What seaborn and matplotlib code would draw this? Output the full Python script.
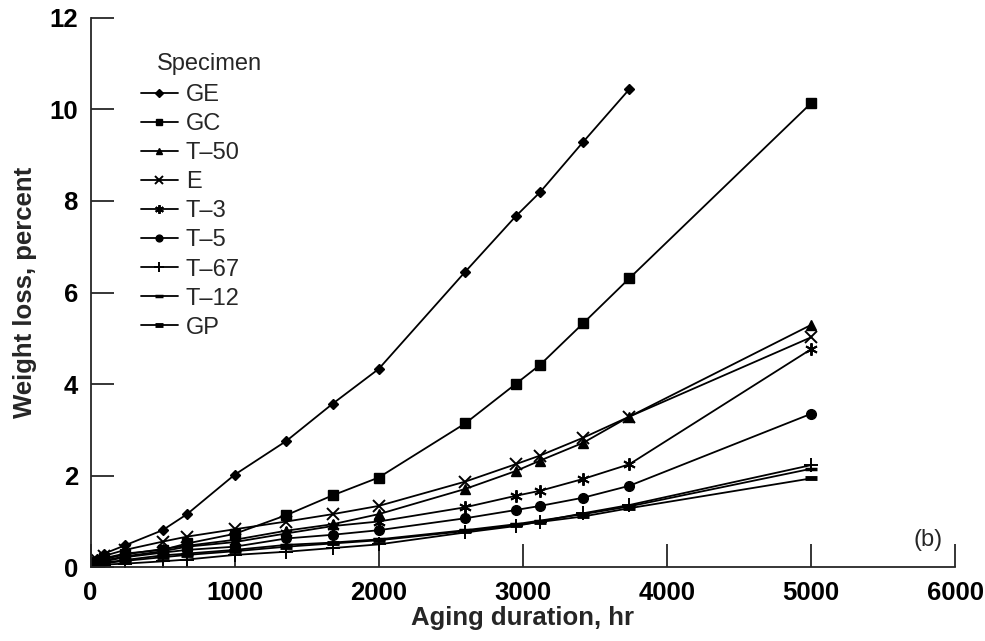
import numpy as np
import pandas as pd
import matplotlib
matplotlib.use('Agg')
import matplotlib.pyplot as plt
import seaborn as sns

# aging hours at which specimens were weighed
hours = [24, 48, 96, 240, 500, 670, 1000, 1360, 1680, 2000, 2600, 2950, 3120, 3420, 3740, 5000]

# weight loss, percent
ge = [0.12, 0.18, 0.30, 0.48, 0.81, 1.16, 2.02, 2.76, 3.57, 4.33, 6.45, 7.66, 8.19, 9.29, 10.44]
gc = [0.08, 0.12, 0.20, 0.30, 0.38, 0.52, 0.73, 1.14, 1.57, 1.96, 3.14, 4.00, 4.42, 5.33, 6.31, 10.13]
t50 = [0.06, 0.10, 0.18, 0.28, 0.40, 0.47, 0.60, 0.80, 0.94, 1.16, 1.71, 2.10, 2.33, 2.72, 3.29, 5.29]
e = [0.10, 0.15, 0.25, 0.38, 0.56, 0.67, 0.83, 1.00, 1.16, 1.34, 1.87, 2.25, 2.44, 2.83, 3.29, 5.02]
t3 = [0.06, 0.09, 0.15, 0.24, 0.35, 0.45, 0.55, 0.74, 0.90, 1.00, 1.31, 1.56, 1.67, 1.93, 2.25, 4.76]
t5 = [0.05, 0.08, 0.13, 0.22, 0.32, 0.38, 0.45, 0.63, 0.71, 0.81, 1.07, 1.25, 1.34, 1.52, 1.78, 3.35]
t67 = [0.03, 0.05, 0.06, 0.08, 0.13, 0.17, 0.27, 0.34, 0.42, 0.50, 0.76, 0.90, 1.00, 1.18, 1.36, 2.23]
t12 = [0.04, 0.07, 0.10, 0.16, 0.26, 0.30, 0.38, 0.49, 0.54, 0.61, 0.81, 0.94, 1.02, 1.16, 1.33, 2.15]
gp = [0.04, 0.06, 0.09, 0.14, 0.22, 0.27, 0.35, 0.45, 0.52, 0.59, 0.79, 0.92, 0.99, 1.11, 1.29, 1.94]

specimens = ['GE', 'GC', 'T\u201350', 'E', 'T\u20133', 'T\u20135', 'T\u201367', 'T\u201312', 'GP']
series = [ge, gc, t50, e, t3, t5, t67, t12, gp]

# marker, size, edge width per specimen
styles = [('D', 5.5, 1.0), ('s', 7, 1.0), ('^', 7, 1.0), ('x', 8, 1.4), ((6, 2, 0), 9, 1.4),
          ('o', 7, 1.0), ('+', 10, 1.4), ('_', 8, 2.5), ('_', 8, 3.5)]

sns.set_style('ticks')
plt.rcParams['font.family'] = ['Liberation Sans', 'DejaVu Sans']

fig = plt.figure(figsize=(9.85, 6.41), dpi=100)
ax = fig.add_axes([90.5 / 985, 1 - 567.3 / 641, (955 - 90.5) / 985, (567.3 - 17.7) / 641])

for name, vals, (m, ms, mew) in zip(specimens, series, styles):
    df = pd.DataFrame({'hr': hours[:len(vals)], 'loss': vals})
    sns.lineplot(data=df, x='hr', y='loss', ax=ax, color='black', lw=1.3,
                 marker=m, markersize=ms, markeredgewidth=mew, markeredgecolor='black',
                 label=name)

ax.set_xlim(0, 6000)
ax.set_ylim(0, 12)
ax.set_xticks(np.arange(0, 6001, 1000))
ax.set_yticks(np.arange(0, 13, 2))
sns.despine(ax=ax)
for sp in ['left', 'bottom']:
    ax.spines[sp].set_linewidth(1.3)
ax.tick_params(direction='in', length=16.5, width=1.1, labelsize=18.5, colors='black')
ax.tick_params(axis='x', pad=10)
ax.tick_params(axis='y', pad=9)
for lab in ax.get_xticklabels() + ax.get_yticklabels():
    lab.set_fontweight('bold')

ax.set_xlabel('Aging duration, hr', fontsize=18.5, fontweight='bold')
ax.set_ylabel('Weight loss, percent', fontsize=18.5, fontweight='bold')
ax.xaxis.set_label_coords(0.5, -0.093)
ax.xaxis.label.set_va('center')
ax.yaxis.set_label_coords(-0.076, 0.5)
ax.yaxis.label.set_va('center')

leg = ax.legend(loc='upper left', bbox_to_anchor=(141 / 985, 1 - 84 / 641),
                bbox_transform=fig.transFigure, frameon=False, fontsize=17,
                handlelength=1.55, handletextpad=0.35, labelspacing=0.3,
                borderpad=0, borderaxespad=0, markerscale=0.7)
fig.text(156.7 / 985, 1 - 64.3 / 641, 'Specimen', fontsize=17, ha='left', va='center')
fig.text(928 / 985, 1 - 540 / 641, '(b)', fontsize=17, ha='center', va='center')

fig.savefig('out.png', dpi=100)
